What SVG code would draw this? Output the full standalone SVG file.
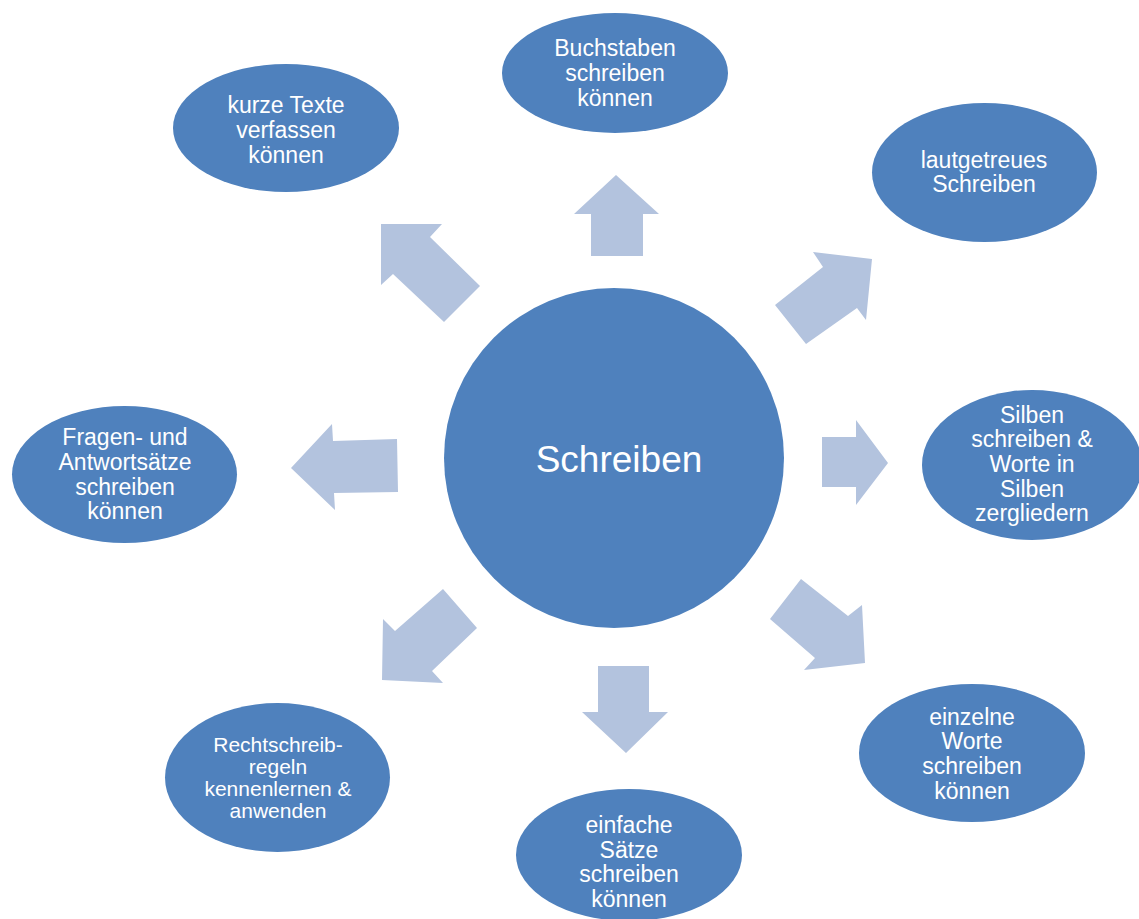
<svg xmlns="http://www.w3.org/2000/svg" width="1139" height="919" viewBox="0 0 1139 919">
<style>
.node{fill:#4F81BD;}
.arrow{fill:#B3C3DE;}
.t{fill:#FFFFFF;font-family:"Liberation Sans",Arial,sans-serif;font-size:23px;text-anchor:middle;}
.big{font-size:37px;}
.sm{font-size:21px;}
</style>
<rect width="1139" height="919" fill="#FFFFFF"/>
<g id="connectors">
<polygon class="arrow" points="616,175 659,214 643,214 643,256 591,256 591,214 574,214"/>
<polygon class="arrow" points="872,259 866,320 857,308 806,344 775,305 823,267 813,252"/>
<polygon class="arrow" points="888,463 856,505 856,487 822,487 822,437 856,437 856,420"/>
<polygon class="arrow" points="865,663 804,670 815,658 770,619 801,579 848,616 862,605"/>
<polygon class="arrow" points="626,753 668,712 649,712 649,666 598,666 598,712 582,712"/>
<polygon class="arrow" points="382,680 383,619 395,631 443,589 477,628 432,671 443,683"/>
<polygon class="arrow" points="291,468 332,424 333,441 397,439 398,492 334,493 335,510"/>
<polygon class="arrow" points="381,224 442,224 430,237 480,286 444,322 393,274 381,285"/>
</g>
<g id="center">
<circle class="node" cx="614" cy="458" r="170"/>
<text class="t big" x="619" y="472">Schreiben</text>
</g>
<g id="n-buchstaben">
<ellipse class="node" cx="615" cy="73" rx="113" ry="60"/>
<text class="t" x="615" y="56">Buchstaben</text>
<text class="t" x="615" y="81">schreiben</text>
<text class="t" x="615" y="106">können</text>
</g>
<g id="n-lautgetreu">
<ellipse class="node" cx="984.5" cy="172.5" rx="112.5" ry="69.5"/>
<text class="t" x="984" y="168">lautgetreues</text>
<text class="t" x="984" y="192">Schreiben</text>
</g>
<g id="n-silben">
<ellipse class="node" cx="1032" cy="465" rx="110" ry="75"/>
<text class="t" x="1032" y="423">Silben</text>
<text class="t" x="1032" y="447">schreiben &amp;</text>
<text class="t" x="1032" y="472">Worte in</text>
<text class="t" x="1032" y="497">Silben</text>
<text class="t" x="1032" y="521">zergliedern</text>
</g>
<g id="n-einzelne">
<ellipse class="node" cx="972" cy="753" rx="113" ry="69"/>
<text class="t" x="972" y="725">einzelne</text>
<text class="t" x="972" y="749">Worte</text>
<text class="t" x="972" y="774">schreiben</text>
<text class="t" x="972" y="799">können</text>
</g>
<g id="n-einfache">
<ellipse class="node" cx="629" cy="855" rx="113" ry="66"/>
<text class="t" x="629" y="833">einfache</text>
<text class="t" x="629" y="858">Sätze</text>
<text class="t" x="629" y="882">schreiben</text>
<text class="t" x="629" y="907">können</text>
</g>
<g id="n-rechtschreib">
<ellipse class="node" cx="277.5" cy="777.5" rx="112.5" ry="74.5"/>
<text class="t sm" x="278" y="752">Rechtschreib-</text>
<text class="t sm" x="278" y="774">regeln</text>
<text class="t sm" x="278" y="796">kennenlernen &amp;</text>
<text class="t sm" x="278" y="818">anwenden</text>
</g>
<g id="n-fragen">
<ellipse class="node" cx="124.5" cy="474.5" rx="112.5" ry="68.5"/>
<text class="t" x="125" y="445">Fragen- und</text>
<text class="t" x="125" y="470">Antwortsätze</text>
<text class="t" x="125" y="495">schreiben</text>
<text class="t" x="125" y="519">können</text>
</g>
<g id="n-kurze">
<ellipse class="node" cx="286" cy="128" rx="113" ry="64"/>
<text class="t" x="286" y="113">kurze Texte</text>
<text class="t" x="286" y="138">verfassen</text>
<text class="t" x="286" y="163">können</text>
</g>
</svg>
